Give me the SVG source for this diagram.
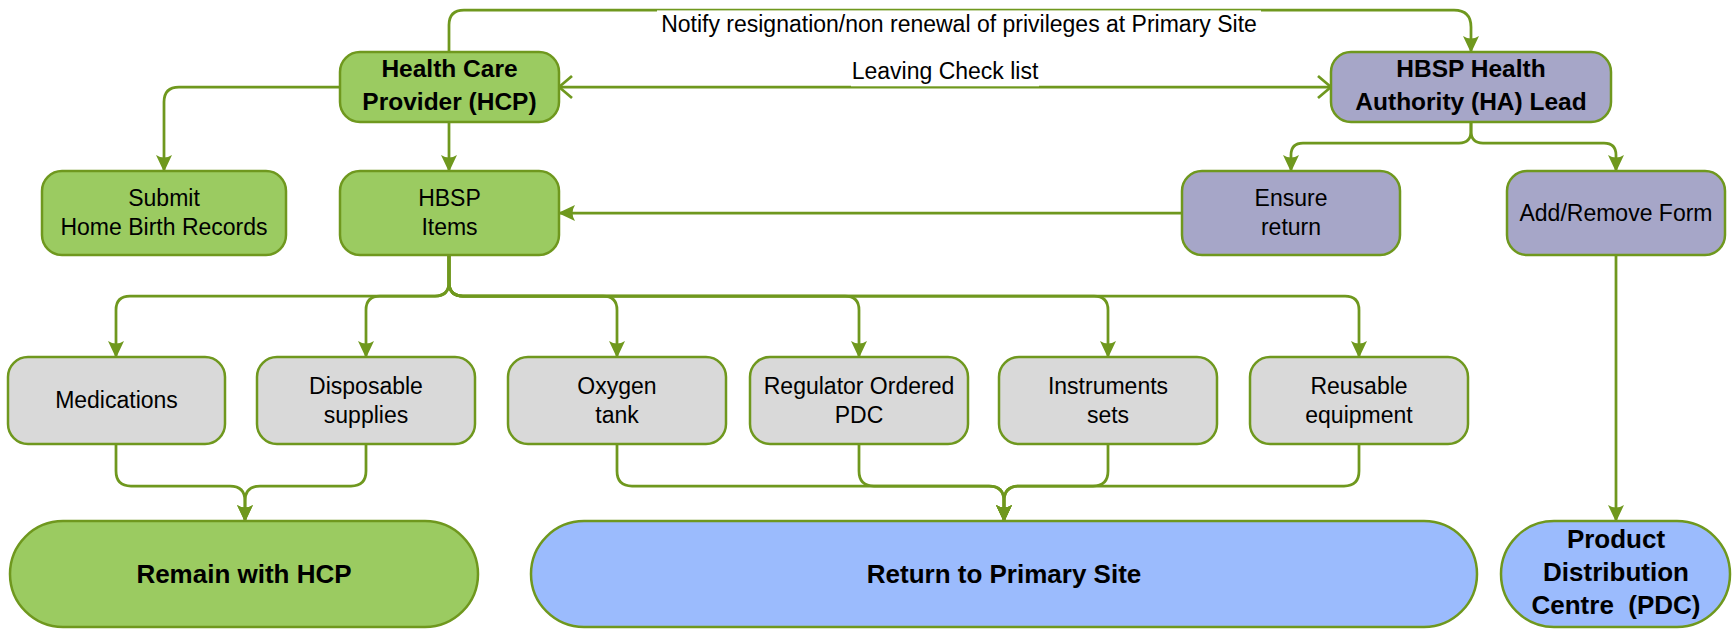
<svg xmlns="http://www.w3.org/2000/svg" width="1732" height="630" viewBox="0 0 1732 630">
<style>
.n{stroke:#6F981E;stroke-width:2.5}
.g{fill:#9BCB61}
.p{fill:#A6A6C8}
.y{fill:#D9D9D9}
.u{fill:#9BBBFD}
text{font-family:"Liberation Sans",Arial,sans-serif;fill:#000;text-anchor:middle}
.t{font-size:23px}
.b{font-size:24.5px;font-weight:bold}
.bb{font-size:26px;font-weight:bold}
.c path{fill:none;stroke:#6F981E;stroke-width:2.75}
.c path.a{marker-end:url(#fa)}
</style>
<defs>
<marker id="fa" markerUnits="userSpaceOnUse" viewBox="-18 -9 20 18" markerWidth="20" markerHeight="18" refX="0" refY="0" orient="auto">
<path d="M1,0 L-16,-8 Q-11,0 -16,8 Z" fill="#6F981E"/>
</marker>
<marker id="oa" markerUnits="userSpaceOnUse" viewBox="-16 -13 18 26" markerWidth="18" markerHeight="26" refX="0" refY="0" orient="auto-start-reverse">
<path d="M-13,-11 L0,0 L-13,11" fill="none" stroke="#6F981E" stroke-width="2.75"/>
</marker>
</defs>

<g id="connectors" class="c">
<path class="a" d="M449,52 V25 Q449,10 464,10 H1454 Q1471,10 1471,27 V52"/>
<path d="M559,87 H1331" style="marker-start:url(#oa);marker-end:url(#oa)"/>
<path class="a" d="M340,87 H179 Q164,87 164,102 V171"/>
<path class="a" d="M449,122 V171"/>
<path class="a" d="M1182,213 H559"/>
<path class="a" d="M1471,121 V131 Q1471,143 1459,143 H1303 Q1291,143 1291,155 V171"/>
<path class="a" d="M1471,121 V131 Q1471,143 1483,143 H1604 Q1616,143 1616,155 V171"/>
<path class="a" d="M449,255 V282 Q449,296 435,296 H130 Q116,296 116,310 V357"/>
<path class="a" d="M449,255 V282 Q449,296 435,296 H380 Q366,296 366,310 V357"/>
<path class="a" d="M449,255 V282 Q449,296 463,296 H603 Q617,296 617,310 V357"/>
<path class="a" d="M449,255 V282 Q449,296 463,296 H845 Q859,296 859,310 V357"/>
<path class="a" d="M449,255 V282 Q449,296 463,296 H1094 Q1108,296 1108,310 V357"/>
<path class="a" d="M449,255 V282 Q449,296 463,296 H1345 Q1359,296 1359,310 V357"/>
<path class="a" d="M116,444 V471 Q116,486 131,486 H230 Q245,486 245,501 V521"/>
<path class="a" d="M366,444 V471 Q366,486 351,486 H260 Q245,486 245,501 V521"/>
<path class="a" d="M617,444 V471 Q617,486 632,486 H989 Q1004,486 1004,501 V521"/>
<path class="a" d="M859,444 V471 Q859,486 874,486 H989 Q1004,486 1004,501 V521"/>
<path class="a" d="M1108,444 V471 Q1108,486 1093,486 H1019 Q1004,486 1004,501 V521"/>
<path class="a" d="M1359,444 V471 Q1359,486 1344,486 H1019 Q1004,486 1004,501 V521"/>
<path class="a" d="M1616,255 V521"/>
</g>

<g id="label-notify">
<rect x="657" y="10.4" width="604" height="28" fill="#fff"/>
<text class="t" x="959" y="31.5">Notify resignation/non renewal of privileges at Primary Site</text>
</g>
<g id="label-leaving">
<rect x="851" y="60" width="188" height="26.3" fill="#fff"/>
<text class="t" x="945" y="79">Leaving Check list</text>
</g>

<g id="hcp">
<rect class="n g" x="340" y="52" width="219" height="70" rx="20"/>
<text class="b" x="449.5" y="77">Health Care</text>
<text class="b" x="449.5" y="110">Provider (HCP)</text>
</g>
<g id="ha-lead">
<rect class="n p" x="1331" y="52" width="280" height="70" rx="20"/>
<text class="b" x="1471" y="77">HBSP Health</text>
<text class="b" x="1471" y="110">Authority (HA) Lead</text>
</g>
<g id="submit">
<rect class="n g" x="42" y="171" width="244" height="84" rx="20"/>
<text class="t" x="164" y="206">Submit</text>
<text class="t" x="164" y="235">Home Birth Records</text>
</g>
<g id="items">
<rect class="n g" x="340" y="171" width="219" height="84" rx="20"/>
<text class="t" x="449.5" y="206">HBSP</text>
<text class="t" x="449.5" y="235">Items</text>
</g>
<g id="ensure">
<rect class="n p" x="1182" y="171" width="218" height="84" rx="20"/>
<text class="t" x="1291" y="206">Ensure</text>
<text class="t" x="1291" y="235">return</text>
</g>
<g id="addremove">
<rect class="n p" x="1507" y="171" width="218" height="84" rx="20"/>
<text class="t" x="1616" y="221">Add/Remove Form</text>
</g>
<g id="medications">
<rect class="n y" x="8" y="357" width="217" height="87" rx="20"/>
<text class="t" x="116.5" y="408">Medications</text>
</g>
<g id="disposable">
<rect class="n y" x="257" y="357" width="218" height="87" rx="20"/>
<text class="t" x="366" y="394">Disposable</text>
<text class="t" x="366" y="423">supplies</text>
</g>
<g id="oxygen">
<rect class="n y" x="508" y="357" width="218" height="87" rx="20"/>
<text class="t" x="617" y="394">Oxygen</text>
<text class="t" x="617" y="423">tank</text>
</g>
<g id="regulator">
<rect class="n y" x="750" y="357" width="218" height="87" rx="20"/>
<text class="t" x="859" y="394">Regulator Ordered</text>
<text class="t" x="859" y="423">PDC</text>
</g>
<g id="instruments">
<rect class="n y" x="999" y="357" width="218" height="87" rx="20"/>
<text class="t" x="1108" y="394">Instruments</text>
<text class="t" x="1108" y="423">sets</text>
</g>
<g id="reusable">
<rect class="n y" x="1250" y="357" width="218" height="87" rx="20"/>
<text class="t" x="1359" y="394">Reusable</text>
<text class="t" x="1359" y="423">equipment</text>
</g>
<g id="remain">
<rect class="n g" x="10" y="521" width="468" height="106" rx="53"/>
<text class="bb" x="244" y="583">Remain with HCP</text>
</g>
<g id="return">
<rect class="n u" x="531" y="521" width="946" height="106" rx="53"/>
<text class="bb" x="1004" y="583">Return to Primary Site</text>
</g>
<g id="pdc">
<rect class="n u" x="1501" y="521" width="229" height="106" rx="53"/>
<text class="bb" x="1616" y="548">Product</text>
<text class="bb" x="1616" y="581">Distribution</text>
<text class="bb" x="1616" y="614" style="white-space:pre">Centre  (PDC)</text>
</g>
</svg>
